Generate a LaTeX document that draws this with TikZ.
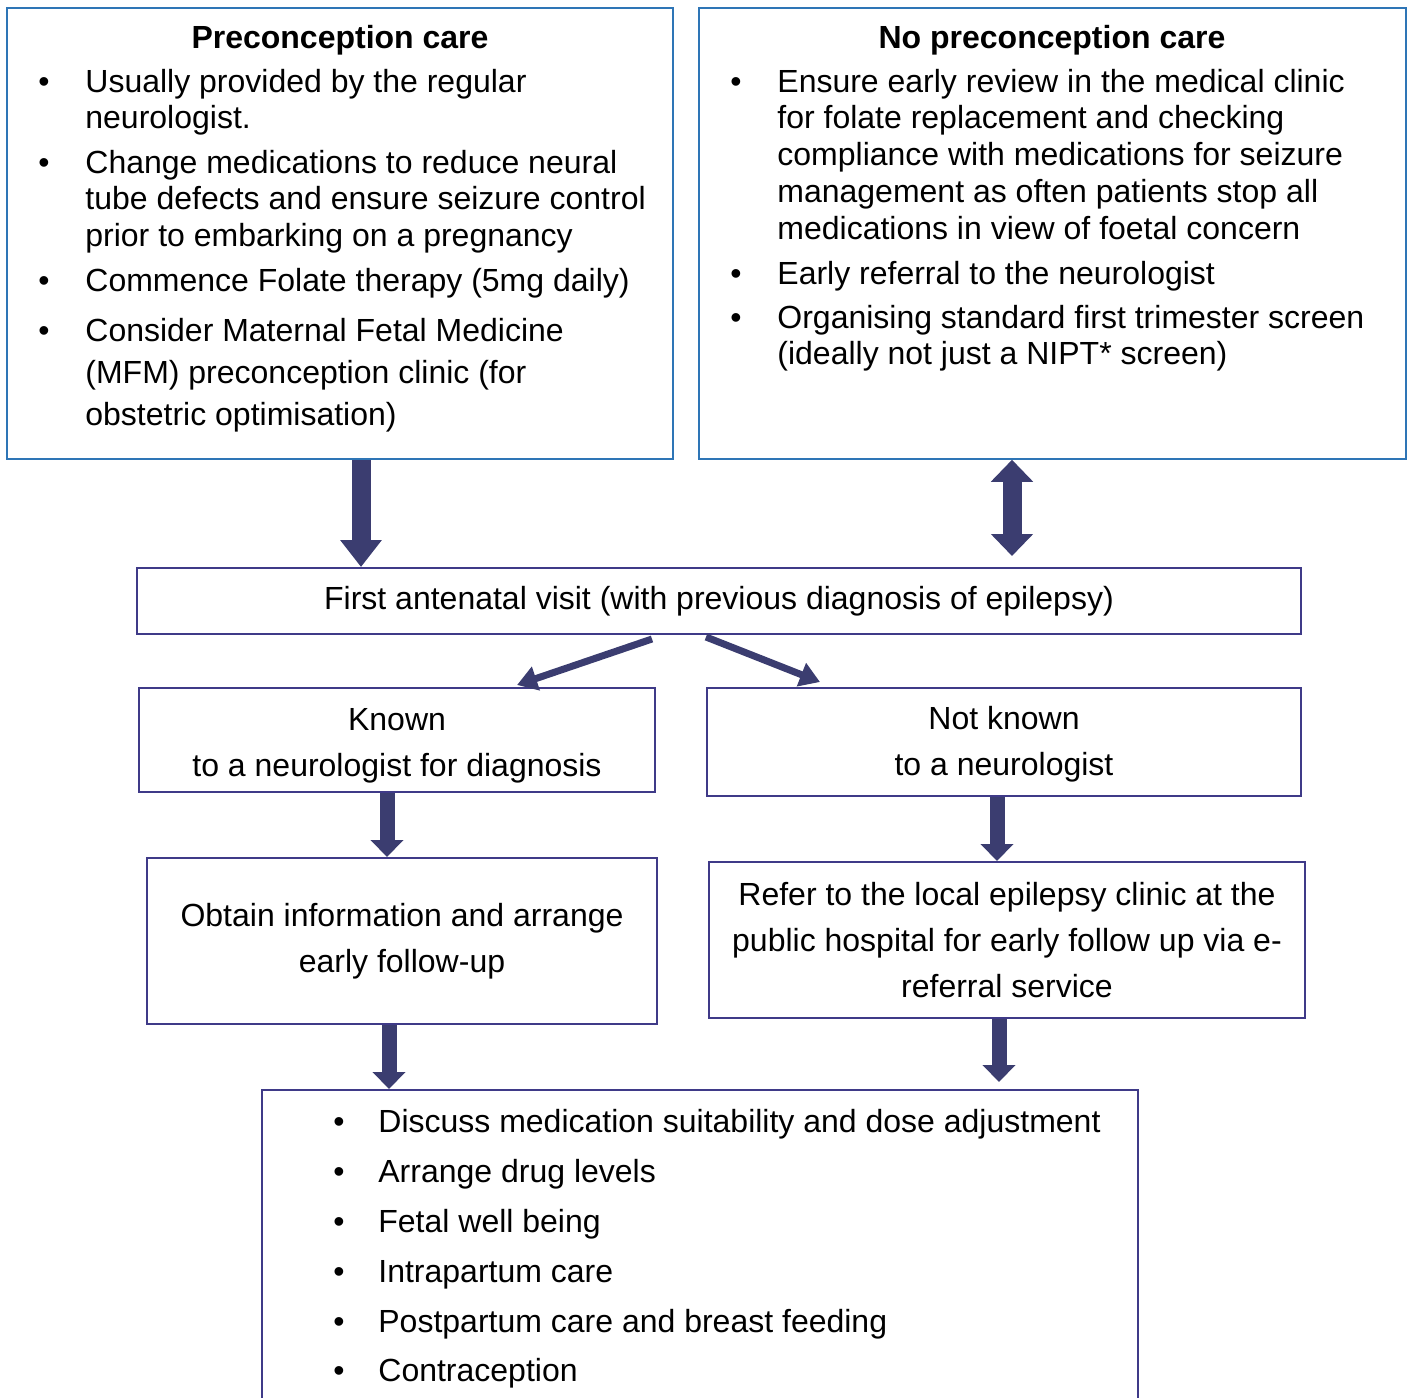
\documentclass[tikz,border=0pt]{standalone}
\usepackage{fontspec}
\setmainfont{Liberation Sans}
\usetikzlibrary{arrows.meta,positioning}
\definecolor{topblue}{HTML}{2E75B6}
\definecolor{boxpurple}{HTML}{3F3A88}
\definecolor{arrownavy}{HTML}{3B3D70}
\newcommand{\toplines}[1]{\begin{tabular}[t]{@{}l@{}}#1\end{tabular}}

\begin{document}
\begin{tikzpicture}[x=0.5pt,y=-0.5pt]
            \tikzstyle{topbox} = [draw=topblue, line width=0.75pt, inner sep=0pt]
            \tikzstyle{box} = [draw=boxpurple, line width=1pt, inner sep=0pt, align=center, font=\fontsize{16}{23}\selectfont]
            \tikzstyle{head} = [anchor=base, inner sep=0pt, font=\fontsize{16}{18.5}\selectfont\bfseries]
            \tikzstyle{item} = [anchor=base west, inner sep=0pt, font=\fontsize{16}{18.4}\selectfont]
            \tikzstyle{dot} = [anchor=base, inner sep=0pt, font=\fontsize{16}{18.5}\selectfont]
            \tikzstyle{bigarrow} = [draw=arrownavy, line width=9.5pt, -{Triangle[width=20pt, length=13.5pt]}]
            \tikzstyle{midarrow} = [draw=arrownavy, line width=7.5pt, -{Triangle[width=16pt, length=8.5pt]}]
            \tikzstyle{slimarrow} = [draw=arrownavy, line width=3.5pt, -{Triangle[width=12pt, length=10pt]}]
            \clip (0, 0) rectangle (1409, 1398);
            \useasboundingbox (0, 0) rectangle (1409, 1398);
            % boxes
            \node[topbox, minimum width=333pt, minimum height=225.5pt] (pre) at (340, 233.5) {};
            \node[topbox, minimum width=353.5pt, minimum height=225.5pt] (nopre) at (1052.5, 233.5) {};
            \node[box, minimum width=582pt, minimum height=33pt] (first) at (719, 601) {First antenatal visit (with previous diagnosis of epilepsy)};
            \node[box, minimum width=258pt, minimum height=52pt] (known) at (397, 740) {\rule{0pt}{16.5pt}Known\\to a neurologist for diagnosis};
            \node[box, minimum width=297pt, minimum height=54pt] (notknown) at (1004, 742) {\rule{0pt}{13.5pt}Not known\\to a neurologist};
            \node[box, minimum width=255pt, minimum height=83pt] (obtain) at (402, 941) {Obtain information and arrange\\early follow-up};
            \node[box, minimum width=298pt, minimum height=78pt] (refer) at (1007, 940) {Refer to the local epilepsy clinic at the\\public hospital for early follow up via e-\\referral service};
            \node[box, minimum width=438pt, minimum height=170pt] (plan) at (700, 1260) {};
            % preconception care
            \node[head] (prehead) at (340, 48) {Preconception care};
            \node[dot] (d1) at (44, 92) {\textbullet};
            \node[item] (i1) at (85, 92) {\toplines{Usually provided by the regular\\neurologist.}};
            \node[dot] (d2) at (44, 173) {\textbullet};
            \node[item] (i2) at (85, 173) {\toplines{Change medications to reduce neural\\tube defects and ensure seizure control\\prior to embarking on a pregnancy}};
            \node[dot] (d3) at (44, 291) {\textbullet};
            \node[item] (i3) at (85, 291) {Commence Folate therapy (5mg daily)};
            \node[dot] (d4) at (44, 341) {\textbullet};
            \node[item, font=\fontsize{16}{21}\selectfont] (i4) at (85, 341) {\toplines{Consider Maternal Fetal Medicine\\(MFM) preconception clinic (for\\obstetric optimisation)}};
            % no preconception care
            \node[head] (noprehead) at (1052, 48) {No preconception care};
            \node[dot] (e1) at (736, 92) {\textbullet};
            \node[item] (j1) at (777, 92) {\toplines{Ensure early review in the medical clinic\\for folate replacement and checking\\compliance with medications for seizure\\management as often patients stop all\\medications in view of foetal concern}};
            \node[dot] (e2) at (736, 284) {\textbullet};
            \node[item] (j2) at (777, 284) {Early referral to the neurologist};
            \node[dot] (e3) at (736, 328) {\textbullet};
            \node[item] (j3) at (777, 328) {\toplines{Organising standard first trimester screen\\(ideally not just a NIPT* screen)}};
            % management list
            \node[dot] (f1) at (339, 1132) {\textbullet};
            \node[item] (k1) at (378, 1132) {Discuss medication suitability and dose adjustment};
            \node[dot] (f2) at (339, 1182) {\textbullet};
            \node[item] (k2) at (378, 1182) {Arrange drug levels};
            \node[dot] (f3) at (339, 1232) {\textbullet};
            \node[item] (k3) at (378, 1232) {Fetal well being};
            \node[dot] (f4) at (339, 1282) {\textbullet};
            \node[item] (k4) at (378, 1282) {Intrapartum care};
            \node[dot] (f5) at (339, 1332) {\textbullet};
            \node[item] (k5) at (378, 1332) {Postpartum care and breast feeding};
            \node[dot] (f6) at (339, 1381) {\textbullet};
            \node[item] (k6) at (378, 1381) {Contraception};
            % arrows
            \draw[bigarrow] (361, 0 |- pre.south) -- (361, 0 |- first.north);
            \draw[bigarrow, {Triangle[width=20.5pt, length=11pt]}-{Triangle[width=20.5pt, length=11pt]}] (1012, 0 |- nopre.south) -- ([yshift=5.5pt]1012, 0 |- first.north);
            \draw[slimarrow] ([shift={(-67, 4)}]first.south) -- ([shift={(120, -2)}]known.north);
            \draw[slimarrow] ([shift={(-13, 2)}]first.south) -- ([shift={(-184, -5)}]notknown.north);
            \draw[midarrow] (387, 0 |- known.south) -- (387, 0 |- obtain.north);
            \draw[midarrow] (997, 0 |- notknown.south) -- (997, 0 |- refer.north);
            \draw[midarrow] (389, 0 |- obtain.south) -- (389, 0 |- plan.north);
            \draw[midarrow] (999, 0 |- refer.south) -- ([yshift=3.5pt]999, 0 |- plan.north);
        \end{tikzpicture}
\end{document}
